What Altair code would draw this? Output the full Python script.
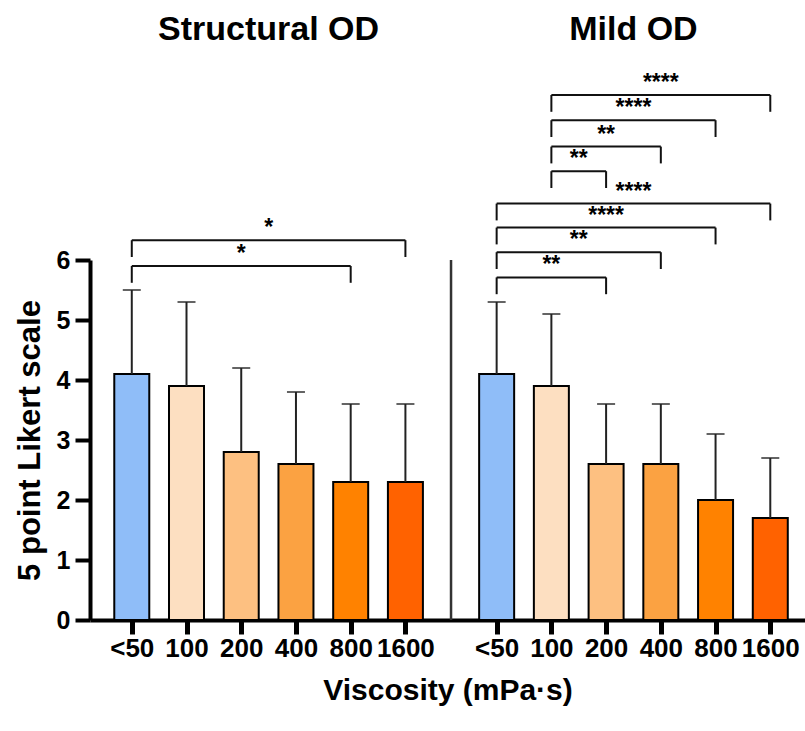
import altair as alt
import pandas as pd

# ---- data ----
viscosity = ["<50", "100", "200", "400", "800", "1600"]
groups = ["Structural OD", "Mild OD"]
mean_structural = [4.1, 3.9, 2.8, 2.6, 2.3, 2.3]
sd_structural = [1.4, 1.4, 1.4, 1.2, 1.3, 1.3]
mean_mild = [4.1, 3.9, 2.6, 2.6, 2.0, 1.7]
sd_mild = [1.2, 1.2, 1.0, 1.0, 1.1, 1.0]
colors = ["#8FBDF8", "#FDDFC1", "#FDC081", "#FBA242", "#FF8200", "#FF6200"]

# significance brackets: group, from, to, height (scale units), label
br_group = ["Structural OD", "Structural OD",
            "Mild OD", "Mild OD", "Mild OD", "Mild OD",
            "Mild OD", "Mild OD", "Mild OD", "Mild OD"]
br_from = ["<50", "<50", "<50", "<50", "<50", "<50", "100", "100", "100", "100"]
br_to = ["800", "1600", "200", "400", "800", "1600", "200", "400", "800", "1600"]
br_height = [5.9, 6.33, 5.71, 6.13, 6.54, 6.94, 7.48, 7.89, 8.33, 8.75]
br_label = ["*", "*", "**", "**", "****", "****", "**", "**", "****", "****"]

# ---- layout helpers ----
GROUP_OFFSET = 6.667
def pos(group, v):
    return viscosity.index(v) + (GROUP_OFFSET if group == groups[1] else 0.0)

rows = []
for g, means, sds in [(groups[0], mean_structural, sd_structural),
                      (groups[1], mean_mild, sd_mild)]:
    for v, m, s in zip(viscosity, means, sds):
        rows.append({"group": g, "visc": v, "pos": pos(g, v),
                     "mean": m, "upper": m + s})
df = pd.DataFrame(rows)

LEG = 0.28
STAR = 0.2
br_rows = []
for g, a, b, h, lab in zip(br_group, br_from, br_to, br_height, br_label):
    x1, x2 = pos(g, a), pos(g, b)
    br_rows.append({"x1": x1, "x2": x2, "h": h, "hl": h - LEG,
                    "xm": (x1 + x2) / 2, "hs": h + STAR, "label": lab})
br = pd.DataFrame(br_rows)

title_df = pd.DataFrame({
    "label": groups,
    "x": [2.5, 2.5 + GROUP_OFFSET],
    "y": [9.83, 9.83],
})
div_df = pd.DataFrame({"x": [(5 + GROUP_OFFSET) / 2], "y0": [0], "y1": [6]})

FONT = "Liberation Sans"
tick_values = [pos(g, v) for g in groups for v in viscosity]
label_expr = ("['" + "','".join(viscosity) + "'][round(datum.value >= 6 ? datum.value - "
              + str(GROUP_OFFSET) + " : datum.value)]")

xscale = alt.Scale(domain=[-0.672, 12.21], nice=False, zero=False)
yscale = alt.Scale(domain=[0, 6], nice=False)

xaxis = alt.Axis(values=tick_values, labelExpr=label_expr, title="Viscosity (mPa·s)",
                 grid=False, domainColor="black", domainWidth=4, tickColor="black",
                 tickWidth=5, tickSize=14, labelFont=FONT, labelFontSize=26,
                 labelFontWeight="bold", labelColor="black", labelPadding=1,
                 labelOverlap=False, labelFlush=False, titleFont=FONT,
                 titleFontSize=30, titleFontWeight="bold", titleColor="black",
                 titlePadding=14)
yaxis = alt.Axis(values=[0, 1, 2, 3, 4, 5, 6], format="d", title="5 point Likert scale",
                 grid=False, domainColor="black", domainWidth=4, tickColor="black",
                 tickWidth=4, tickSize=15, labelFont=FONT, labelFontSize=25,
                 labelFontWeight="bold", labelColor="black", labelPadding=5,
                 titleFont=FONT, titleFontSize=31, titleFontWeight="bold",
                 titleColor="black", titlePadding=10)

base = alt.Chart(df)

bars = base.mark_bar(size=35, stroke="black", strokeWidth=2).encode(
    x=alt.X("pos:Q", scale=xscale, axis=xaxis),
    y=alt.Y("mean:Q", scale=yscale, axis=yaxis),
    fill=alt.Fill("visc:N", scale=alt.Scale(domain=viscosity, range=colors), legend=None),
)
err = base.mark_rule(color="#222", strokeWidth=2).encode(
    x="pos:Q", y="mean:Q", y2="upper:Q")
caps = base.mark_tick(orient="horizontal", size=18, thickness=2, color="#222").encode(
    x="pos:Q", y="upper:Q")

bchart = alt.Chart(br)
hline = bchart.mark_rule(color="#111", strokeWidth=2).encode(
    x="x1:Q", x2="x2:Q", y="h:Q")
leg1 = bchart.mark_rule(color="#111", strokeWidth=2).encode(
    x="x1:Q", y="h:Q", y2="hl:Q")
leg2 = bchart.mark_rule(color="#111", strokeWidth=2).encode(
    x="x2:Q", y="h:Q", y2="hl:Q")
stars = bchart.mark_text(font=FONT, fontSize=23, fontWeight="bold", color="black",
                         baseline="middle").encode(x="xm:Q", y="hs:Q", text="label:N")

titles = alt.Chart(title_df).mark_text(font=FONT, fontSize=34, fontWeight="bold",
                                       color="black", baseline="middle").encode(
    x="x:Q", y="y:Q", text="label:N")
divider = alt.Chart(div_df).mark_rule(color="#333", strokeWidth=2.5).encode(
    x="x:Q", y="y0:Q", y2="y1:Q")

chart = alt.layer(bars, err, caps, divider, hline, leg1, leg2, stars, titles).properties(
    width=715, height=360,
    background="white",
    autosize=alt.AutoSizeParams(type="none"),
    padding={"left": 90, "top": 260, "right": 0, "bottom": 111},
).configure_view(stroke="transparent", strokeWidth=0)

chart.save("out.html", embed_options={"renderer": "svg", "actions": False})
